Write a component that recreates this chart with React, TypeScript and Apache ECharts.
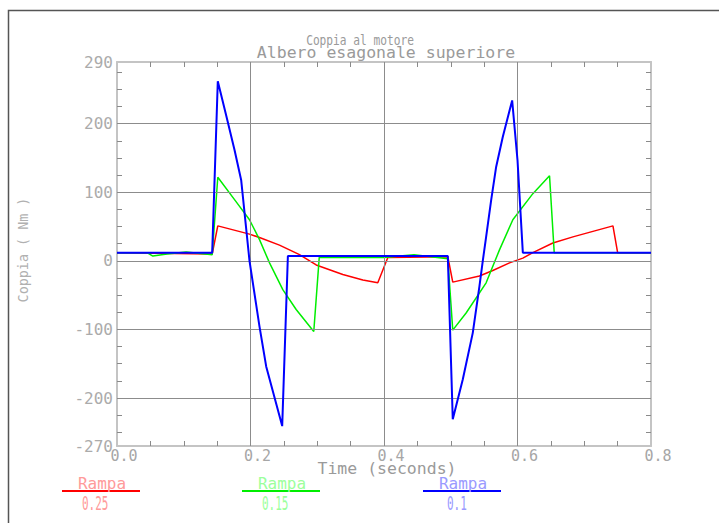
import React, { useEffect, useRef } from "react";
import * as echarts from "echarts";

// ---- data ----
const timeRed = [0, 0.1426, 0.151, 0.1985, 0.2135, 0.2434, 0.2734, 0.2984, 0.3383, 0.3683, 0.3907, 0.4057, 0.4956, 0.503, 0.543, 0.563, 0.588, 0.608, 0.623, 0.653, 0.683, 0.713, 0.743, 0.75, 0.8];
const torqueRed = [12, 10, 51, 39, 34, 23, 9, -6, -20, -28, -32, 5, 6, -31, -22, -14, -3, 4, 12, 26, 35, 43, 51, 12, 12];

const timeGreen = [0, 0.045, 0.0537, 0.075, 0.1036, 0.1426, 0.151, 0.1786, 0.1985, 0.2135, 0.2285, 0.2484, 0.2684, 0.2948, 0.303, 0.4, 0.445, 0.4956, 0.503, 0.523, 0.553, 0.573, 0.593, 0.623, 0.648, 0.655, 0.8];
const torqueGreen = [12, 12, 7, 10, 13, 9, 122, 86, 60, 31, -3, -42, -71, -103, 5, 5, 9, 3, -101, -76, -32, 16, 60, 98, 124, 12, 12];

const timeBlue = [0, 0.1426, 0.151, 0.1636, 0.176, 0.186, 0.1985, 0.2135, 0.2235, 0.2475, 0.256, 0.4956, 0.503, 0.518, 0.533, 0.543, 0.548, 0.553, 0.5606, 0.568, 0.578, 0.592, 0.6, 0.608, 0.8];
const torqueBlue = [12, 12, 262, 212, 162, 118, 0, -96, -154, -241, 7, 7, -231, -173, -105, -37, 0, 35, 89, 137, 181, 234, 147, 12, 12];

const xTickLabels = [0, 0.2, 0.4, 0.6, 0.8];
const yTickLabels = [-270, -200, -100, 0, 100, 200, 290];
const xGridValues = [0.2, 0.4, 0.6];
const yGridValues = [-200, -100, 0, 100, 200];
const xMinorTicks = [0.05, 0.1, 0.15, 0.2, 0.25, 0.3, 0.35, 0.4, 0.45, 0.5, 0.55, 0.6, 0.65, 0.7, 0.75];
const yMinorTicks = [-250, -225, -200, -175, -150, -125, -100, -75, -50, -25, 0, 25, 50, 75, 100, 125, 150, 175, 200, 225, 250, 275];

const legendTitle = "Rampa";
const legendValues = ["0.25", "0.15", "0.1"];
const seriesColors = ["#ff0000", "#00ee00", "#0000ff"];
const legendTextColors = ["#ff9a9a", "#9cff9c", "#9a9aff"];

const titleLine1 = "Coppia al motore";
const titleLine2 = "Albero esagonale superiore";
const xName = "Time (seconds)";
const yName = "Coppia ( Nm )";

const MONO = '"DejaVu Sans Mono", "Liberation Mono", monospace';

function zip(t: number[], v: number[]) {
  return t.map((x, i) => [x, v[i]]);
}

export default function App() {
  const ref = useRef<HTMLDivElement>(null);
  useEffect(() => {
    if (!ref.current) return;
    const chart = echarts.init(ref.current, undefined, { renderer: "svg" });

    const axisLineStyle = { color: "#c4c4c4", width: 2 };
    const tickStyle = { color: "#8a8a8a", width: 1 };

    const xBase = {
      type: "value" as const,
      min: 0,
      max: 0.8,
      axisLine: { show: true, onZero: false, lineStyle: axisLineStyle },
      axisTick: { show: true, inside: true, length: 5, customValues: xMinorTicks, lineStyle: tickStyle },
      splitLine: { show: false },
    };
    const yBase = {
      type: "value" as const,
      min: -270,
      max: 290,
      axisLine: { show: true, onZero: false, lineStyle: axisLineStyle },
      axisTick: { show: true, inside: true, length: 5, customValues: yMinorTicks, lineStyle: tickStyle },
      splitLine: { show: false },
    };

    const legendCenters = [101, 281, 462];
    const legendValueStarts = [82, 262, 447];
    const legendGraphics: any[] = [];
    legendCenters.forEach((c, i) => {
      legendGraphics.push({
        type: "line",
        silent: true,
        shape: { x1: c - 39, y1: 491, x2: c + 39, y2: 491 },
        style: { stroke: seriesColors[i], lineWidth: 2 },
      });
      legendGraphics.push({
        type: "text",
        silent: true,
        x: c + 1,
        y: 483,
        style: { text: legendTitle, fill: legendTextColors[i], fontFamily: MONO, fontSize: 16, align: "center", verticalAlign: "middle" },
      });
      legendGraphics.push({
        type: "text",
        silent: true,
        x: legendValueStarts[i],
        y: 503,
        scaleX: 0.55,
        style: { text: legendValues[i], fill: legendTextColors[i], fontFamily: MONO, fontSize: 20, align: "left", verticalAlign: "middle" },
      });
    });

    chart.setOption({
      animation: false,
      backgroundColor: "#ffffff",
      grid: { left: 117, right: 68, top: 62, bottom: 77, containLabel: false },
      xAxis: [
        {
          ...xBase,
          position: "bottom",
          axisLabel: {
            show: true,
            customValues: xTickLabels,
            formatter: (v: number) => v.toFixed(1),
            color: "#a6a6a6",
            fontFamily: MONO,
            fontSize: 15,
            margin: 2,
            padding: [0, 0, 0, 14],
          },
        },
        { ...xBase, position: "top", axisLabel: { show: false } },
      ],
      yAxis: [
        {
          ...yBase,
          position: "left",
          axisLabel: {
            show: true,
            customValues: yTickLabels,
            formatter: (v: number) => String(v),
            color: "#ababab",
            fontFamily: MONO,
            fontSize: 16,
            margin: 4,
          },
        },
        { ...yBase, position: "right", axisLabel: { show: false } },
      ],
      series: [
        {
          type: "line",
          name: "grid",
          data: [],
          z: 1,
          silent: true,
          markLine: {
            silent: true,
            symbol: "none",
            label: { show: false },
            lineStyle: { color: "#8c8c8c", width: 1, type: "solid" },
            data: [
              ...yGridValues.map((v) => ({ yAxis: v })),
              ...xGridValues.map((v) => ({ xAxis: v })),
            ],
          },
        },
        {
          type: "line",
          name: legendTitle + " " + legendValues[0],
          data: zip(timeRed, torqueRed),
          showSymbol: false,
          symbol: "none",
          z: 3,
          lineStyle: { color: seriesColors[0], width: 1.5 },
        },
        {
          type: "line",
          name: legendTitle + " " + legendValues[1],
          data: zip(timeGreen, torqueGreen),
          showSymbol: false,
          symbol: "none",
          z: 4,
          lineStyle: { color: seriesColors[1], width: 1.5 },
        },
        {
          type: "line",
          name: legendTitle + " " + legendValues[2],
          data: zip(timeBlue, torqueBlue),
          showSymbol: false,
          symbol: "none",
          z: 5,
          lineStyle: { color: seriesColors[2], width: 2 },
        },
      ],
      graphic: [
        {
          type: "rect",
          silent: true,
          shape: { x: 8.5, y: 10.5, width: 1000, height: 1000 },
          style: { fill: "none", stroke: "#555555", lineWidth: 1.5 },
        },
        {
          type: "text",
          silent: true,
          x: 360,
          y: 40,
          scaleX: 0.8,
          style: { text: titleLine1, fill: "#9a9a9a", fontFamily: MONO, fontSize: 14, align: "center", verticalAlign: "middle" },
        },
        {
          type: "text",
          silent: true,
          x: 386,
          y: 52,
          style: { text: titleLine2, fill: "#9a9a9a", fontFamily: MONO, fontSize: 16.5, align: "center", verticalAlign: "middle" },
        },
        {
          type: "text",
          silent: true,
          x: 387,
          y: 468,
          style: { text: xName, fill: "#9a9a9a", fontFamily: MONO, fontSize: 16.5, align: "center", verticalAlign: "middle" },
        },
        {
          type: "text",
          silent: true,
          x: 23,
          y: 250,
          rotation: Math.PI / 2,
          style: { text: yName, fill: "#b0b0b0", fontFamily: MONO, fontSize: 13.4, align: "center", verticalAlign: "middle" },
        },
        ...legendGraphics,
      ],
    });

    return () => chart.dispose();
  }, []);

  return (
    <div
      ref={ref}
      style={{ position: "absolute", left: 0, top: 0, width: 719, height: 523, background: "#fff" }}
    />
  );
}
